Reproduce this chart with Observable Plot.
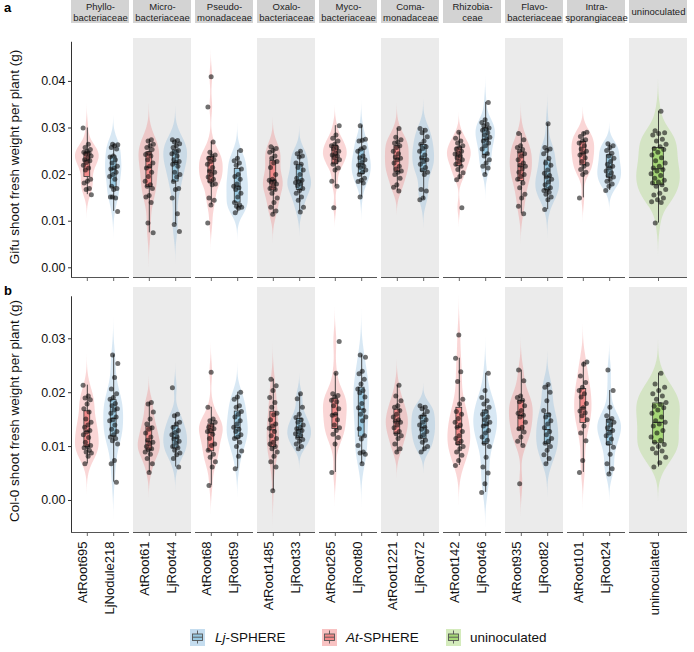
<!DOCTYPE html>
<html><head><meta charset="utf-8">
<script src="https://cdn.jsdelivr.net/npm/d3@7"></script>
<script src="https://cdn.jsdelivr.net/npm/@observablehq/plot@0.6"></script>
<style>
body{margin:0;background:#fff;font-family:"Liberation Sans",Arial,sans-serif;}
#fig{position:relative;width:694px;height:652px;overflow:hidden;background:#fff;}
.abs{position:absolute;left:0;}
.plab{position:absolute;font-weight:bold;font-size:13px;color:#000;}
.ytitle{position:absolute;font-size:13.5px;white-space:nowrap;transform:translate(-50%,-50%) rotate(-90deg);color:#111;}
.leg{position:absolute;font-size:13.5px;top:629px;height:17px;line-height:17px;color:#111;white-space:nowrap;}
.key{position:absolute;top:629px;}
</style></head><body><div id="fig"></div>
<script>
// ---------- data ----------
const families = ["Phyllo-\nbacteriaceae","Micro-\nbacteriaceae","Pseudo-\nmonadaceae","Oxalo-\nbacteriaceae","Myco-\nbacteriaceae","Coma-\nmonadaceae","Rhizobia-\nceae","Flavo-\nbacteriaceae","Intra-\nsporangiaceae","uninoculated"];
const shadedFamilies = [1,3,5,7,9];
const strains = ["AtRoot695","LjNodule218","AtRoot61","LjRoot44","AtRoot68","LjRoot59","AtRoot1485","LjRoot33","AtRoot265","LjRoot80","AtRoot1221","LjRoot72","AtRoot142","LjRoot46","AtRoot935","LjRoot82","AtRoot101","LjRoot24","uninoculated"];
const strainFamily = [0,0,1,1,2,2,3,3,4,4,5,5,6,6,7,7,8,8,9];
const strainSphere = ["At","Lj","At","Lj","At","Lj","At","Lj","At","Lj","At","Lj","At","Lj","At","Lj","At","Lj","none"];
const legendKeys = ["Lj","At","none"];
const legendPrefix = ["Lj","At",""];
const legendSuffix = ["-SPHERE","-SPHERE","uninoculated"];
const yTicksGifu = [0,0.01,0.02,0.03,0.04];
const yTicksCol0 = [0,0.01,0.02,0.03];

// Gifu shoot fresh weight (g) per strain
const gifu = [
 [0.0300,0.0265,0.0258,0.0254,0.0250,0.0248,0.0246,0.0244,0.0240,0.0236,0.0232,0.0230,0.0226,0.0220,0.0214,0.0210,0.0190,0.0186,0.0182,0.0170,0.0168,0.0157],
 [0.0265,0.0264,0.0262,0.0258,0.0255,0.0240,0.0238,0.0232,0.0225,0.0218,0.0214,0.0212,0.0205,0.0200,0.0196,0.0190,0.0175,0.0170,0.0168,0.0152,0.0150,0.0152,0.0121],
 [0.0275,0.0272,0.0265,0.0262,0.0258,0.0254,0.0246,0.0243,0.0240,0.0232,0.0225,0.0218,0.0214,0.0205,0.0196,0.0186,0.0178,0.0175,0.0170,0.0155,0.0152,0.0140,0.0096,0.0075],
 [0.0275,0.0273,0.0270,0.0266,0.0262,0.0258,0.0252,0.0248,0.0245,0.0240,0.0232,0.0228,0.0226,0.0222,0.0218,0.0205,0.0200,0.0195,0.0185,0.0170,0.0168,0.0150,0.0116,0.0093,0.0078],
 [0.0410,0.0345,0.0270,0.0248,0.0242,0.0240,0.0235,0.0232,0.0228,0.0222,0.0215,0.0208,0.0205,0.0200,0.0195,0.0190,0.0186,0.0180,0.0178,0.0150,0.0145,0.0135,0.0096],
 [0.0252,0.0235,0.0230,0.0225,0.0220,0.0212,0.0200,0.0196,0.0190,0.0180,0.0175,0.0172,0.0168,0.0160,0.0152,0.0140,0.0135,0.0132,0.0130,0.0128,0.0118],
 [0.0260,0.0256,0.0252,0.0248,0.0240,0.0235,0.0228,0.0225,0.0215,0.0200,0.0190,0.0188,0.0186,0.0184,0.0180,0.0176,0.0170,0.0168,0.0160,0.0150,0.0140,0.0130,0.0122,0.0115],
 [0.0250,0.0245,0.0240,0.0238,0.0225,0.0222,0.0215,0.0210,0.0200,0.0192,0.0188,0.0185,0.0183,0.0180,0.0176,0.0170,0.0166,0.0160,0.0152,0.0145,0.0130,0.0120],
 [0.0305,0.0285,0.0278,0.0272,0.0265,0.0262,0.0258,0.0255,0.0250,0.0246,0.0242,0.0240,0.0236,0.0232,0.0228,0.0222,0.0214,0.0210,0.0186,0.0175,0.0129],
 [0.0305,0.0276,0.0274,0.0272,0.0258,0.0255,0.0250,0.0240,0.0236,0.0232,0.0226,0.0220,0.0218,0.0215,0.0210,0.0205,0.0200,0.0192,0.0188,0.0185,0.0182,0.0152],
 [0.0299,0.0280,0.0275,0.0270,0.0268,0.0262,0.0258,0.0250,0.0245,0.0238,0.0235,0.0232,0.0225,0.0218,0.0212,0.0208,0.0205,0.0200,0.0192,0.0178,0.0173,0.0165],
 [0.0299,0.0295,0.0290,0.0281,0.0272,0.0265,0.0260,0.0256,0.0250,0.0242,0.0236,0.0232,0.0228,0.0222,0.0215,0.0210,0.0205,0.0200,0.0168,0.0165,0.0150,0.0146],
 [0.0291,0.0278,0.0272,0.0268,0.0262,0.0258,0.0255,0.0250,0.0246,0.0244,0.0240,0.0236,0.0232,0.0228,0.0222,0.0218,0.0211,0.0204,0.0196,0.0189,0.0129],
 [0.0355,0.0318,0.0312,0.0308,0.0305,0.0300,0.0298,0.0295,0.0290,0.0285,0.0280,0.0276,0.0272,0.0268,0.0262,0.0255,0.0245,0.0240,0.0232,0.0225,0.0218,0.0214,0.0200],
 [0.0288,0.0275,0.0262,0.0258,0.0254,0.0250,0.0245,0.0240,0.0232,0.0225,0.0220,0.0218,0.0212,0.0205,0.0200,0.0196,0.0190,0.0182,0.0172,0.0158,0.0150,0.0132,0.0116],
 [0.0309,0.0258,0.0255,0.0252,0.0245,0.0235,0.0225,0.0220,0.0210,0.0203,0.0198,0.0195,0.0190,0.0184,0.0178,0.0172,0.0168,0.0166,0.0162,0.0158,0.0152,0.0146,0.0125],
 [0.0291,0.0288,0.0282,0.0275,0.0272,0.0268,0.0262,0.0255,0.0250,0.0246,0.0242,0.0236,0.0228,0.0222,0.0218,0.0211,0.0205,0.0200,0.0150],
 [0.0266,0.0262,0.0258,0.0252,0.0246,0.0240,0.0235,0.0228,0.0222,0.0218,0.0214,0.0208,0.0204,0.0198,0.0195,0.0190,0.0186,0.0180,0.0175,0.0166],
 [0.0336,0.0294,0.0290,0.0288,0.0285,0.0276,0.0272,0.0265,0.0260,0.0256,0.0254,0.0248,0.0242,0.0236,0.0230,0.0225,0.0218,0.0214,0.0211,0.0208,0.0202,0.0198,0.0192,0.0188,0.0184,0.0182,0.0178,0.0175,0.0168,0.0160,0.0156,0.0150,0.0146,0.0142,0.0140,0.0096]
];

// Col-0 shoot fresh weight (g) per strain
const col0 = [
 [0.0214,0.0194,0.0190,0.0187,0.0179,0.0170,0.0164,0.0151,0.0145,0.0140,0.0136,0.0130,0.0127,0.0122,0.0117,0.0108,0.0102,0.0100,0.0098,0.0093,0.0090,0.0088,0.0082,0.0068],
 [0.0270,0.0254,0.0228,0.0207,0.0198,0.0191,0.0188,0.0180,0.0176,0.0170,0.0168,0.0162,0.0155,0.0150,0.0148,0.0140,0.0132,0.0128,0.0122,0.0118,0.0115,0.0111,0.0105,0.0074,0.0068,0.0034],
 [0.0182,0.0179,0.0164,0.0151,0.0142,0.0135,0.0132,0.0125,0.0118,0.0112,0.0108,0.0105,0.0100,0.0096,0.0094,0.0090,0.0086,0.0078,0.0068,0.0052],
 [0.0209,0.0160,0.0157,0.0145,0.0142,0.0136,0.0130,0.0126,0.0122,0.0118,0.0114,0.0110,0.0106,0.0100,0.0098,0.0093,0.0088,0.0085,0.0078,0.0062],
 [0.0238,0.0173,0.0151,0.0148,0.0145,0.0140,0.0136,0.0133,0.0130,0.0128,0.0123,0.0115,0.0105,0.0102,0.0093,0.0086,0.0080,0.0072,0.0062,0.0028],
 [0.0201,0.0192,0.0188,0.0176,0.0173,0.0165,0.0160,0.0155,0.0148,0.0142,0.0136,0.0132,0.0128,0.0122,0.0118,0.0115,0.0108,0.0100,0.0092,0.0082,0.0059],
 [0.0225,0.0213,0.0204,0.0191,0.0182,0.0173,0.0162,0.0159,0.0150,0.0142,0.0138,0.0134,0.0128,0.0120,0.0115,0.0108,0.0105,0.0100,0.0096,0.0090,0.0082,0.0072,0.0062,0.0018],
 [0.0198,0.0189,0.0173,0.0160,0.0154,0.0150,0.0145,0.0140,0.0136,0.0133,0.0130,0.0127,0.0124,0.0120,0.0117,0.0113,0.0110,0.0105,0.0100,0.0096],
 [0.0295,0.0236,0.0198,0.0195,0.0192,0.0186,0.0183,0.0176,0.0170,0.0160,0.0158,0.0150,0.0140,0.0135,0.0130,0.0123,0.0117,0.0105,0.0052],
 [0.0270,0.0266,0.0240,0.0235,0.0225,0.0216,0.0207,0.0204,0.0200,0.0192,0.0180,0.0172,0.0167,0.0160,0.0155,0.0148,0.0133,0.0120,0.0114,0.0102,0.0090,0.0088,0.0086,0.0068],
 [0.0214,0.0194,0.0185,0.0176,0.0173,0.0167,0.0160,0.0155,0.0150,0.0147,0.0145,0.0140,0.0135,0.0128,0.0124,0.0120,0.0115,0.0105,0.0096,0.0090],
 [0.0176,0.0173,0.0170,0.0165,0.0159,0.0155,0.0150,0.0145,0.0140,0.0136,0.0132,0.0128,0.0122,0.0118,0.0112,0.0108,0.0100,0.0096,0.0090],
 [0.0307,0.0264,0.0239,0.0221,0.0188,0.0179,0.0165,0.0160,0.0152,0.0145,0.0140,0.0136,0.0128,0.0120,0.0115,0.0110,0.0106,0.0100,0.0096,0.0090,0.0084,0.0074,0.0065],
 [0.0236,0.0204,0.0191,0.0185,0.0179,0.0173,0.0165,0.0160,0.0155,0.0150,0.0145,0.0142,0.0138,0.0130,0.0125,0.0118,0.0112,0.0106,0.0100,0.0080,0.0062,0.0051,0.0031,0.0015],
 [0.0242,0.0222,0.0194,0.0191,0.0186,0.0183,0.0176,0.0167,0.0162,0.0158,0.0155,0.0145,0.0136,0.0133,0.0127,0.0118,0.0110,0.0102,0.0031],
 [0.0215,0.0210,0.0201,0.0185,0.0167,0.0159,0.0155,0.0148,0.0142,0.0135,0.0128,0.0122,0.0115,0.0110,0.0106,0.0100,0.0093,0.0085,0.0078,0.0068],
 [0.0257,0.0253,0.0231,0.0219,0.0210,0.0204,0.0198,0.0192,0.0180,0.0172,0.0166,0.0163,0.0157,0.0150,0.0138,0.0125,0.0111,0.0074,0.0052],
 [0.0242,0.0204,0.0173,0.0157,0.0152,0.0148,0.0145,0.0140,0.0135,0.0130,0.0125,0.0120,0.0114,0.0106,0.0099,0.0086,0.0068,0.0059,0.0049],
 [0.0236,0.0216,0.0210,0.0204,0.0198,0.0194,0.0188,0.0182,0.0178,0.0175,0.0172,0.0168,0.0162,0.0155,0.0148,0.0145,0.0142,0.0138,0.0130,0.0125,0.0118,0.0112,0.0108,0.0104,0.0100,0.0096,0.0092,0.0088,0.0080,0.0070,0.0062]
];

// ---------- styles ----------
const boxColor = {At:"#f38a8a", Lj:"#98c9e2", none:"#a6d876"};
const violinColor = {At:"#f07878", Lj:"#7fb4dc", none:"#9fd36a"};
const violinOpacity = 0.3;
const xDomain = [0.4, 2.6];
const FONT = '"Liberation Sans", Arial, sans-serif';

// ---------- helpers ----------
function groupLayout(){
  return strains.map((s,i)=>{
    const f = strainFamily[i];
    const members = strains.map((_,j)=>j).filter(j=>strainFamily[j]===f);
    const n = members.length, k = members.indexOf(i)+1;
    return {pos: 0.4 + 2.2*(k-0.4)/(n+0.2), unit: 2.2/(n+0.2)};
  });
}
function kde(vals){
  const n = vals.length, s = vals.slice().sort(d3.ascending);
  const sd = d3.deviation(s), iqr = d3.quantileSorted(s,0.75)-d3.quantileSorted(s,0.25);
  const bw = 0.9*Math.min(sd, iqr/1.34)*Math.pow(n,-0.2);
  const lo = s[0]-3*bw, hi = s[n-1]+3*bw, steps = 120, out = [];
  for (let t=0;t<=steps;t++){
    const y = lo + (hi-lo)*t/steps;
    let d = 0; for (const v of s){ const u=(y-v)/bw; d += Math.exp(-0.5*u*u); }
    out.push([y, d/(n*bw*Math.sqrt(2*Math.PI))]);
  }
  return out;
}

function buildPanel(values, yDomain, axisTop, ticks, showLabels, height, marginTop, marginBottom){
  const layout = groupLayout();
  const dens = values.map(kde);
  const famMax = {};
  dens.forEach((d,i)=>{const f=strainFamily[i]; famMax[f]=Math.max(famMax[f]||0, d3.max(d,p=>p[1]));});
  const violins=[], boxes=[], points=[];
  values.forEach((vals,i)=>{
    const fam = families[strainFamily[i]], sp = strainSphere[i], {pos,unit} = layout[i];
    dens[i].forEach(([y,d])=>{const hw = d/famMax[strainFamily[i]]*0.45*unit; violins.push({fam, g:strains[i], sp, y, x1:pos-hw, x2:pos+hw});});
    const s = vals.slice().sort(d3.ascending);
    const q1=d3.quantileSorted(s,0.25), med=d3.quantileSorted(s,0.5), q3=d3.quantileSorted(s,0.75), iqr=q3-q1;
    const lo=d3.min(s.filter(v=>v>=q1-1.5*iqr)), hi=d3.max(s.filter(v=>v<=q3+1.5*iqr));
    boxes.push({fam, sp, strain:strains[i], pos, x1:pos-0.11*unit, x2:pos+0.11*unit, q1, med, q3, lo, hi});
    vals.forEach((v,j)=>{
      const jit = ((((j*0.6180339887 + i*0.37) % 1) - 0.5)*2*0.16*unit);
      points.push({fam, x:pos+jit, y:v});
    });
  });
  const marks = [
    Plot.rect(shadedFamilies.map(k=>families[k]), {fx:d=>d, x1:xDomain[0], x2:xDomain[1], y1:yDomain[0], y2:yDomain[1], fill:"#ebebeb"}),
    Plot.areaX(violins, {fx:"fam", z:"g", y:"y", x1:"x1", x2:"x2", fill:d=>violinColor[d.sp], fillOpacity:violinOpacity, clip:true}),
    Plot.ruleX(boxes, {fx:"fam", x:"pos", y1:"lo", y2:"q1", stroke:"#333", strokeWidth:0.9}),
    Plot.ruleX(boxes, {fx:"fam", x:"pos", y1:"q3", y2:"hi", stroke:"#333", strokeWidth:0.9}),
    Plot.rect(boxes, {fx:"fam", x1:"x1", x2:"x2", y1:"q1", y2:"q3", fill:d=>boxColor[d.sp], stroke:"#333", strokeWidth:0.8}),
    Plot.ruleY(boxes, {fx:"fam", y:"med", x1:"x1", x2:"x2", stroke:"#333", strokeWidth:1}),
    Plot.dot(points, {fx:"fam", x:"x", y:"y", r:2.5, fill:"#111", fillOpacity:0.6, stroke:null}),
    Plot.ruleY([yDomain[0]], {stroke:"#555", strokeWidth:1.2}),
    Plot.ruleX(boxes, {fx:"fam", x:"pos", y1:yDomain[0], y2:yDomain[0], insetBottom:-4, stroke:"#555", strokeWidth:0.9}),
    Plot.ruleX([families[0]], {fx:d=>d, x:xDomain[0], y1:yDomain[0], y2:axisTop, stroke:"#333", strokeWidth:1}),
    Plot.axisY({ticks, tickFormat:d3.format(".2f"), tickSize:3, tickPadding:3, fontSize:12.5, label:null, stroke:"#333", fill:"#111"})
  ];
  if (showLabels) marks.push(Plot.text(boxes, {fx:"fam", x:"pos", text:"strain", frameAnchor:"bottom", rotate:-90, textAnchor:"end", dy:9, fontSize:13, fill:"#111"}));
  return Plot.plot({
    width:694, height, marginLeft:68, marginRight:4, marginTop, marginBottom,
    style:{fontFamily:FONT, background:"transparent", overflow:"visible"},
    fx:{domain:families, paddingInner:0.065, paddingOuter:0, axis:null},
    x:{domain:xDomain, axis:null},
    y:{domain:yDomain},
    marks
  });
}

// ---------- assemble ----------
const fig = document.getElementById("fig");
function place(el, top){ const d=document.createElement("div"); d.className="abs"; d.style.top=top+"px"; d.appendChild(el); fig.appendChild(d); }

const strip = Plot.plot({
  width:694, height:23, marginLeft:68, marginRight:4, marginTop:0, marginBottom:0,
  style:{fontFamily:FONT, background:"transparent", overflow:"visible"},
  fx:{domain:families, paddingInner:0.065, paddingOuter:0, axis:null},
  x:{domain:xDomain, axis:null},
  y:{domain:[0,1], axis:null},
  marks:[
    Plot.rect(families, {fx:d=>d, x1:xDomain[0], x2:xDomain[1], y1:0, y2:1, fill:"#d3d3d3"}),
    Plot.text(families, {fx:d=>d, x:(xDomain[0]+xDomain[1])/2, y:0.5, text:d=>d, fontSize:9.5, lineHeight:1.12, lineAnchor:"middle", textAnchor:"middle", fill:"#222"})
  ]
});
place(strip, 0);
place(buildPanel(gifu, [-0.00208, 0.04921], 0.0484, yTicksGifu, false, 262, 15, 8), 23);
place(buildPanel(col0, [-0.00594, 0.03952], 0.0378, yTicksCol0, true, 329, 2, 82), 285);

function addDiv(cls, html, css){ const d=document.createElement("div"); d.className=cls; d.innerHTML=html; Object.assign(d.style, css); fig.appendChild(d); }
addDiv("plab","a",{left:"4px",top:"0px"});
addDiv("plab","b",{left:"4px",top:"283px"});
addDiv("ytitle","Gifu shoot fresh weight per plant (g)",{left:"14px",top:"157px"});
addDiv("ytitle","Col-0 shoot fresh weight per plant (g)",{left:"14px",top:"411px"});

const keyLeft = [190, 322, 446], textLeft = [215, 346, 470];
legendKeys.forEach((k,i)=>{
  const svg = `<svg width="15" height="17" viewBox="0 0 15 17">
    <rect x="0" y="0" width="15" height="17" fill="${violinColor[k]}" fill-opacity="0.45"/>
    <line x1="7.5" y1="1.5" x2="7.5" y2="14.5" stroke="#555" stroke-width="0.9"/>
    <rect x="2.5" y="5" width="10" height="6.5" fill="${boxColor[k]}" stroke="#555" stroke-width="0.9"/>
    <line x1="2.5" y1="8.2" x2="12.5" y2="8.2" stroke="#555" stroke-width="0.9"/></svg>`;
  addDiv("key", svg, {left:keyLeft[i]+"px"});
  const label = legendPrefix[i] ? `<i>${legendPrefix[i]}</i>${legendSuffix[i]}` : legendSuffix[i];
  addDiv("leg", label, {left:textLeft[i]+"px"});
});
</script></body></html>
